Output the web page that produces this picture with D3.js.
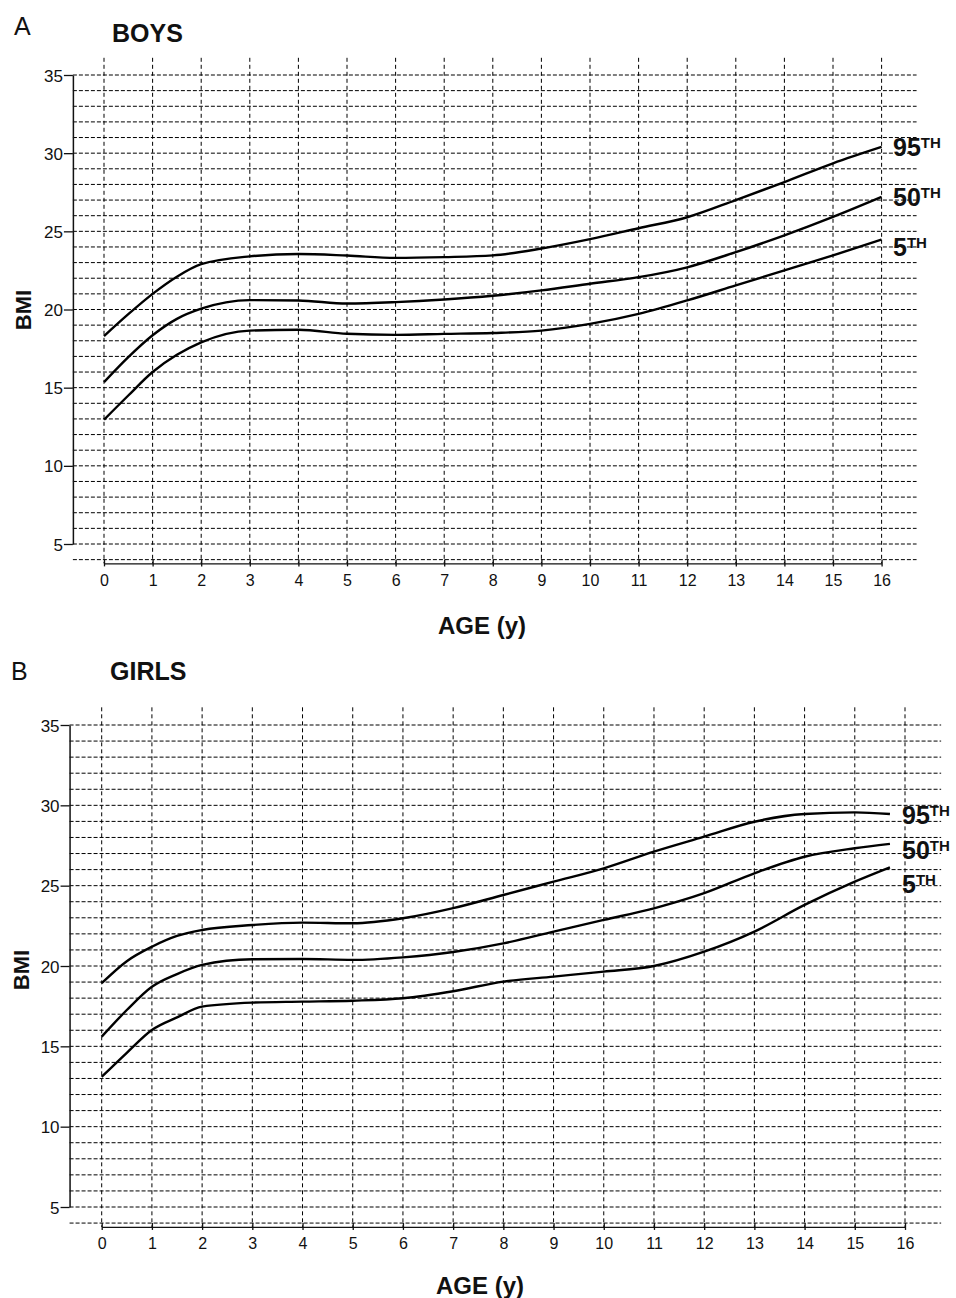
<!DOCTYPE html>
<html>
<head>
<meta charset="utf-8">
<script src="https://cdn.jsdelivr.net/npm/d3@7"></script>
<style>
  body { margin: 0; background: #fff; }
  svg { display: block; font-family: "Liberation Sans", Arial, Helvetica, sans-serif; }
</style>
</head>
<body>
<div id="chart"></div>
<script>
var boysAges = [0, 0.5, 1, 1.5, 2, 3, 4, 5, 6, 7, 8, 9, 10, 11, 12, 13, 14, 15, 16];
var boys95 = [18.3, 19.7, 21.0, 22.1, 22.9, 23.4, 23.55, 23.45, 23.3, 23.35, 23.46, 23.9, 24.5, 25.2, 25.9, 27.0, 28.15, 29.35, 30.4];
var boys50 = [15.35, 16.95, 18.35, 19.4, 20.05, 20.6, 20.58, 20.38, 20.47, 20.64, 20.88, 21.22, 21.65, 22.07, 22.7, 23.67, 24.74, 25.92, 27.2];
var boys5 = [12.95, 14.5, 16.0, 17.1, 17.9, 18.65, 18.7, 18.45, 18.38, 18.44, 18.5, 18.65, 19.08, 19.72, 20.58, 21.54, 22.5, 23.46, 24.47];

var girlsAges = [0, 0.5, 1, 1.5, 2, 3, 4, 5, 6, 7, 8, 9, 10, 11, 12, 13, 14, 15, 15.7];
var girls95 = [18.93, 20.3, 21.2, 21.87, 22.24, 22.55, 22.7, 22.66, 22.97, 23.6, 24.42, 25.25, 26.08, 27.12, 28.05, 28.98, 29.46, 29.56, 29.46];
var girls50 = [15.6, 17.26, 18.71, 19.5, 20.07, 20.42, 20.44, 20.38, 20.54, 20.87, 21.41, 22.14, 22.87, 23.59, 24.53, 25.77, 26.8, 27.33, 27.6];
var girls5 = [13.1, 14.6, 16.02, 16.8, 17.47, 17.72, 17.78, 17.84, 17.99, 18.43, 19.03, 19.34, 19.65, 20.0, 20.89, 22.14, 23.8, 25.25, 26.14];

var percentileLabels = ["95", "50", "5"];
var xTicks = d3.range(0, 17);
var yTicks = [5, 10, 15, 20, 25, 30, 35];
var gridRows = d3.range(4, 36);

var W = 956, H = 1298;
var svg = d3.select("#chart").append("svg")
  .attr("width", W)
  .attr("height", H);

function drawPanel(p) {
  var x = d3.scaleLinear().domain([0, 16]).range([p.x0, p.x16]);
  var y = d3.scaleLinear().domain([5, 35]).range([p.y5, p.y35]);
  var g = svg.append("g");

  // horizontal dashed grid
  g.append("g").selectAll("line")
    .data(gridRows)
    .join("line")
      .attr("x1", x(-0.64)).attr("x2", x(16.72))
      .attr("y1", function(d) { return y(d); })
      .attr("y2", function(d) { return y(d); })
      .attr("stroke", "#000")
      .attr("stroke-width", 1)
      .attr("stroke-dasharray", "4,2");

  // vertical dashed grid
  g.append("g").selectAll("line")
    .data(xTicks)
    .join("line")
      .attr("x1", function(d) { return x(d); })
      .attr("x2", function(d) { return x(d); })
      .attr("y1", y(36.1)).attr("y2", y(3.76))
      .attr("stroke", "#000")
      .attr("stroke-width", 1)
      .attr("stroke-dasharray", "4,3");

  // y axis
  var yAxis = g.append("g")
    .attr("transform", "translate(" + x(-0.64) + ",0)")
    .call(d3.axisLeft(y).tickValues(yTicks).tickSize(9).tickSizeOuter(0));
  yAxis.select(".domain").attr("stroke", "#111").attr("stroke-width", 1.5);
  yAxis.selectAll(".tick line").attr("stroke", "#111").attr("stroke-width", 1.3);
  yAxis.selectAll(".tick text")
    .attr("x", -10)
    .attr("dy", "0.36em")
    .style("font-size", "17px")
    .style("font-family", "'Liberation Sans', Arial, sans-serif")
    .attr("fill", "#111");

  // x axis
  var xAxis = g.append("g")
    .attr("transform", "translate(0," + y(3.76) + ")")
    .call(d3.axisBottom(x).tickValues(xTicks).tickSize(3).tickSizeOuter(0));
  xAxis.select(".domain").attr("stroke", "#111").attr("stroke-width", 1.3);
  xAxis.selectAll(".tick line").attr("y1", -4).attr("y2", 3)
    .attr("stroke", "#111").attr("stroke-width", 1.3);
  xAxis.selectAll(".tick text")
    .attr("y", 11)
    .attr("dy", "0.71em")
    .style("font-size", "16px")
    .style("font-family", "'Liberation Sans', Arial, sans-serif")
    .attr("fill", "#111");

  // percentile curves
  var line = d3.line()
    .x(function(d) { return x(d[0]); })
    .y(function(d) { return y(d[1]); })
    .curve(d3.curveMonotoneX);
  p.series.forEach(function(s, i) {
    var pts = p.ages.map(function(a, j) { return [a, s[j]]; });
    g.append("path")
      .datum(pts)
      .attr("fill", "none")
      .attr("stroke", "#000")
      .attr("stroke-width", 2.4)
      .attr("d", line);

    var lbl = g.append("text")
      .attr("x", p.labelX)
      .attr("y", p.labelY[i])
      .attr("font-weight", "bold")
      .attr("font-size", 25)
      .attr("fill", "#111")
      .text(percentileLabels[i]);
    lbl.append("tspan")
      .attr("dy", -8)
      .attr("font-size", 15)
      .text("TH");
  });

  // panel letters and titles
  g.append("text").attr("x", p.letterX).attr("y", p.letterY)
    .attr("font-size", 25).attr("fill", "#111").text(p.letter);
  g.append("text").attr("x", p.titleX).attr("y", p.titleY)
    .attr("font-size", 25).attr("font-weight", "bold").attr("fill", "#111").text(p.title);

  // axis titles
  g.append("text")
    .attr("x", p.ageX).attr("y", p.ageY)
    .attr("text-anchor", "middle")
    .attr("font-size", 24).attr("font-weight", "bold").attr("fill", "#111")
    .text("AGE (y)");
  g.append("text")
    .attr("transform", "translate(" + p.bmiX + "," + p.bmiY + ") rotate(-90)")
    .attr("text-anchor", "middle")
    .attr("font-size", 22).attr("font-weight", "bold").attr("fill", "#111")
    .text("BMI");
}

drawPanel({
  x0: 104, x16: 881.6, y5: 544, y35: 75,
  ages: boysAges, series: [boys95, boys50, boys5],
  labelX: 893, labelY: [156, 206, 256],
  letter: "A", letterX: 14, letterY: 35,
  title: "BOYS", titleX: 112, titleY: 42,
  ageX: 482, ageY: 634, bmiX: 31, bmiY: 310
});

drawPanel({
  x0: 101.7, x16: 905, y5: 1207, y35: 725,
  ages: girlsAges, series: [girls95, girls50, girls5],
  labelX: 902, labelY: [824, 859, 893],
  letter: "B", letterX: 11, letterY: 680,
  title: "GIRLS", titleX: 110, titleY: 680,
  ageX: 480, ageY: 1294, bmiX: 29, bmiY: 970
});
</script>
</body>
</html>
